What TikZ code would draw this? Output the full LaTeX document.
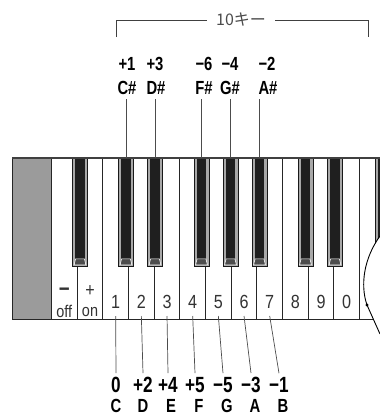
\documentclass[tikz,border=0pt]{standalone}
\usepackage{fontspec}
\setmainfont{Liberation Sans}
\newfontfamily\condfont[FakeStretch=0.78]{Liberation Sans}
\newfontfamily\keyfont[FakeStretch=0.85]{Liberation Sans}
\newfontfamily\jpfont{Noto Sans CJK JP}
\definecolor{panelgray}{HTML}{9B9B9B}
\definecolor{rimgray}{HTML}{A8A8A8}

\tikzset{
	whitekey/.style={draw=black!85,line width=1pt,fill=white,minimum width=25.67pt,
		minimum height=161pt,anchor=north west,inner sep=0pt},
	blackkey/.style={draw=black!90,line width=0.8pt,fill=rimgray,minimum width=15pt,
		minimum height=108pt,anchor=north,inner sep=0pt},
	keylabel/.style={font=\keyfont\fontsize{19}{19}\selectfont,text=black!80,inner sep=0pt},
	toplabel/.style={font=\condfont\bfseries\fontsize{19}{19}\selectfont,inner sep=1pt},
	botlabel/.style={font=\condfont\bfseries\fontsize{22}{22}\selectfont,inner sep=1pt},
	lead/.style={draw=black!70,line width=0.7pt},
	bracket/.style={draw=black!75,line width=0.9pt}
}

\begin{document}
\begin{tikzpicture}[x=1pt,y=-1pt]
	\useasboundingbox (0,0) rectangle (380,416);
	
	%10 keys bracket
	\node[font=\jpfont\fontsize{16}{16}\selectfont,text=black!70,inner xsep=9pt] (tenkey) at (241,20) {10キー};
	\coordinate (brl) at (116,37);
	\coordinate (brr) at (368,37);
	\draw[bracket] (brl) |- (tenkey.west);
	\draw[bracket] (tenkey.east) -| (brr);
	
	%gray panel
	\draw[fill=panelgray,draw=black!85,line width=1pt] (12,158) rectangle (51,319);
	
	%white keys
	\foreach \i in {0,...,11}
		\node[whitekey] (k\i) at ({51+25.67*\i},158) {};
	\foreach \i/\t in {2/1,3/2,4/3,5/4,6/5,7/6,8/7,9/8,10/9,11/0}
		\node[keylabel] (num\i) at ([yshift=18pt]k\i.south) {\t};
	\node[keylabel,font=\keyfont\bfseries\fontsize{22}{22}\selectfont] (minus) at ([yshift=28pt]k0.south) {−};
	\node[keylabel,font=\keyfont\fontsize{17}{17}\selectfont] (off) at ([yshift=9pt]k0.south) {off};
	\node[keylabel,font=\keyfont\fontsize{19}{19}\selectfont] (plus) at ([yshift=29pt]k1.south) {+};
	\node[keylabel,font=\keyfont\fontsize{17}{17}\selectfont] (on) at ([yshift=8pt]k1.south) {on};
	
	%black keys
	\foreach \n/\x in {bas/80,bcs/126,bds/155,bfs/201.5,bgs/230.5,bbs/259.5,bcs2/305.5,bds2/335}{
		\node[blackkey] (\n) at (\x,158) {};
		\fill[black!88] ([xshift=3pt,yshift=-0.5pt]\n.north west) rectangle ([xshift=-3pt,yshift=8pt]\n.south east);
		\draw[white,line width=0.6pt,fill=black!70] ([xshift=2pt,yshift=2pt]\n.south west) -- ([xshift=-2pt,yshift=2pt]\n.south east)
			-- ([xshift=-3.5pt,yshift=8pt]\n.south east) -- ([xshift=3.5pt,yshift=8pt]\n.south west) -- cycle;
	}
	
	%cut off end
	\begin{scope}
		\clip (12,150) -- (380,150) -- (380,236) .. controls (364,258) and (360,285) .. (367,305) -- (380,334) -- (12,334) -- cycle;
		\node[blackkey] (bfs2) at (383,158) {};
		\fill[black!88] ([xshift=3pt,yshift=-0.5pt]bfs2.north west) rectangle ([xshift=-3pt,yshift=8pt]bfs2.south east);
	\end{scope}
	\draw[black!75,line width=1.2pt] (12,158) -- (380,158);
	\draw[black!85,line width=1pt] (12,319) -- (373.5,319);
	\draw[line width=0.9pt] (380,236) .. controls (364,258) and (360,285) .. (367,305) -- (380,334);
	\fill (367,305) circle (1.6);
	
	%sharps
	\node[toplabel] (ncs) at (127,64) {+1};	\node[toplabel] (lcs) at (127,88) {C\#};
	\node[toplabel] (nds) at (155,64) {+3};	\node[toplabel] (lds) at (156,88) {D\#};
	\node[toplabel] (nfs) at (204,64) {−6};	\node[toplabel] (lfs) at (204,88) {F\#};
	\node[toplabel] (ngs) at (230,64) {−4};	\node[toplabel] (lgs) at (230,88) {G\#};
	\node[toplabel] (nbs) at (267,64) {−2};	\node[toplabel] (lbs) at (268,88) {A\#};
	\foreach \n in {cs,ds,fs,gs,bs}
		\draw[lead] (b\n.north) -- ([yshift=-3pt]b\n.north |- l\n.south);
	
	%naturals
	\node[botlabel] (nc) at (116,385) {0};	\node[toplabel] (lc) at (116,406) {C};
	\node[botlabel] (nd) at (143,385) {+2};	\node[toplabel] (ld) at (143,406) {D};
	\node[botlabel] (ne) at (168,385) {+4};	\node[toplabel] (le) at (171,406) {E};
	\node[botlabel] (nf) at (195,385) {+5};	\node[toplabel] (lf) at (199,406) {F};
	\node[botlabel] (ng) at (223,385) {−5};	\node[toplabel] (lg) at (227,406) {G};
	\node[botlabel] (na) at (251,385) {−3};	\node[toplabel] (la) at (255,406) {A};
	\node[botlabel] (nb) at (279,385) {−1};	\node[toplabel] (lb) at (283,406) {B};
	\foreach \i/\n in {2/c,3/d,4/e,5/f,6/g,7/a,8/b}
		\draw[lead] ([yshift=4pt]k\i.south) -- ([yshift=3pt]n\n.north);
\end{tikzpicture}
\end{document}
